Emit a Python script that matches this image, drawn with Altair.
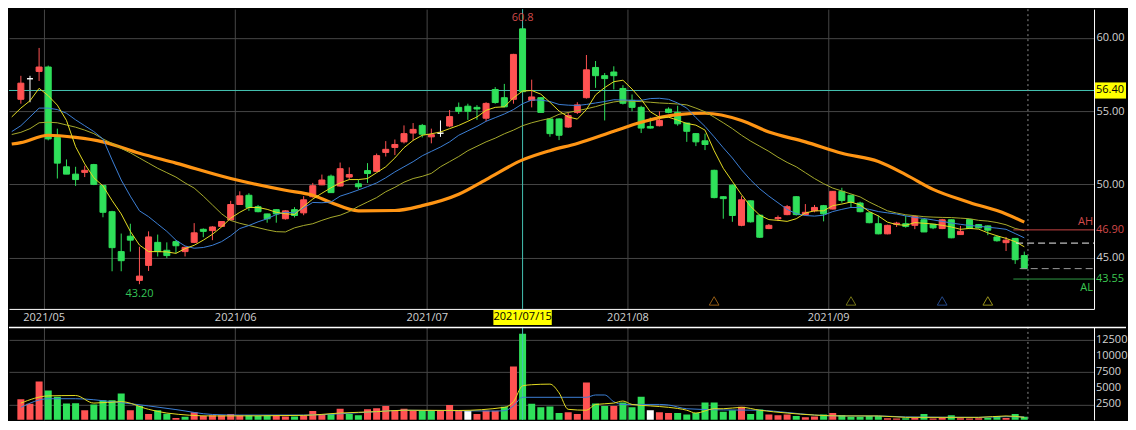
import altair as alt
import pandas as pd

# ---------------- data ----------------
opens = [55.8, 57.2, 57.7, 58.0, 53.2, 51.2, 50.7, 50.82, 51.35, 49.93,
         48.14, 45.42, 46.47, 43.46, 44.48, 46.05, 45.51, 46.1, 45.42, 46.05,
         46.94, 46.85, 47.14, 47.58, 48.63, 49.26, 48.48, 47.99, 48.28, 47.66,
         48.28, 48.06, 49.16, 49.97, 50.56, 49.89, 50.5, 50.04, 50.94, 50.89,
         52.18, 52.52, 52.9, 53.5, 54.02, 53.24, 53.49, 53.98, 55.25, 55.33,
         55.25, 54.51, 56.47, 55.91, 55.8, 60.6, 55.73, 55.91, 54.46, 54.46,
         53.91, 54.91, 55.91, 57.97, 57.41, 57.66, 56.54, 55.73, 55.25, 53.95,
         54.0, 55.13, 54.91, 54.18, 53.46, 52.97, 50.96, 49.16, 49.95, 47.21,
         48.88, 47.9, 46.99, 47.66, 47.94, 49.16, 47.94, 48.2, 48.55, 48.32,
         49.53, 49.26, 48.73, 48.06, 47.32, 46.63, 47.28, 47.32, 47.21, 47.59,
         47.28, 46.99, 47.59, 46.58, 47.61, 47.26, 47.17, 46.42, 46.03, 46.32,
         45.15]
highs = [57.4, 57.4, 59.3, 58.1, 53.8, 51.7, 51.2, 51.27, 51.4, 49.95,
         48.2, 46.65, 47.32, 45.75, 46.8, 46.58, 46.05, 46.2, 45.75, 47.36,
         47.0, 47.15, 47.5, 48.88, 49.53, 49.4, 48.6, 48.0, 48.3, 48.25,
         48.45, 49.2, 50.1, 50.67, 50.67, 51.49, 51.16, 50.33, 51.45, 52.1,
         52.95, 53.06, 54.02, 54.18, 54.12, 53.8, 54.36, 55.07, 55.58, 55.5,
         55.4, 55.6, 56.63, 56.85, 58.9, 60.8, 57.14, 55.95, 54.5, 54.5,
         54.9, 55.6, 58.82, 58.41, 57.59, 58.05, 56.76, 56.13, 55.36, 54.56,
         54.98, 55.25, 55.36, 54.2, 53.5, 53.46, 51.0, 49.2, 50.0, 49.2,
         48.9, 47.95, 47.3, 47.88, 48.6, 49.2, 48.66, 48.6, 48.6, 49.55,
         49.77, 49.3, 48.82, 48.1, 47.88, 47.25, 47.45, 47.88, 47.9, 47.62,
         47.3, 47.65, 47.62, 47.17, 47.65, 47.3, 47.2, 46.5, 46.42, 46.35,
         45.42]
lows = [55.5, 55.6, 57.05, 53.0, 50.4, 50.7, 49.9, 50.5, 49.95, 47.76,
        44.08, 44.08, 45.42, 43.2, 44.1, 45.09, 44.98, 45.3, 45.09, 46.0,
        46.4, 46.2, 47.1, 47.55, 48.6, 48.2, 48.1, 47.39, 47.39, 47.6,
        47.75, 47.9, 49.1, 49.95, 49.44, 49.85, 50.33, 49.66, 50.1, 50.85,
        51.9, 52.0, 52.79, 53.0, 53.2, 52.8, 53.24, 53.9, 54.8, 54.4,
        54.4, 54.3, 55.5, 55.25, 55.5, 56.3, 55.25, 54.91, 53.25, 53.02,
        53.85, 54.8, 55.85, 56.58, 54.36, 56.47, 55.45, 54.98, 53.5, 53.8,
        53.95, 54.85, 54.0, 52.9, 52.61, 52.34, 49.05, 47.66, 47.45, 47.15,
        47.4, 46.35, 46.95, 47.5, 47.9, 47.88, 47.88, 48.1, 47.48, 48.3,
        48.75, 48.4, 48.1, 47.35, 46.6, 46.6, 47.1, 47.05, 46.95, 46.75,
        46.95, 46.95, 46.33, 46.55, 46.95, 47.0, 46.54, 46.1, 45.46, 44.58,
        44.26]
closes = [56.9, 57.2, 58.0, 53.1, 51.45, 50.7, 50.33, 50.96, 50.0, 48.1,
          45.69, 44.8, 46.2, 43.75, 46.42, 45.42, 45.15, 45.82, 45.71, 46.7,
          46.8, 47.1, 47.47, 48.63, 49.22, 48.43, 48.14, 47.66, 47.99, 48.2,
          47.88, 48.95, 49.91, 50.3, 49.44, 51.07, 50.67, 49.84, 50.74, 51.96,
          52.39, 52.72, 53.46, 53.75, 53.42, 53.39, 53.49, 54.62, 54.98, 54.98,
          55.14, 55.52, 55.58, 55.29, 58.86, 56.32, 55.96, 54.91, 53.46, 53.35,
          54.69, 55.42, 57.81, 57.41, 57.21, 57.41, 55.53, 55.25, 53.84, 53.84,
          54.36, 54.91, 54.13, 53.62, 52.9, 52.72, 49.1, 49.03, 47.88, 48.95,
          47.45, 46.4, 47.21, 47.74, 48.48, 47.94, 48.1, 48.43, 47.99, 49.53,
          48.91, 48.77, 48.14, 47.39, 46.63, 47.21, 47.36, 47.14, 47.81, 46.76,
          47.04, 47.59, 46.36, 46.8, 46.99, 47.04, 46.88, 46.16, 46.2, 44.87,
          44.26]
volumes = [3300, 2590, 6060, 4680, 3700, 2630, 2670, 1600, 2490, 3160,
           3160, 4190, 1600, 2270, 1025, 1600, 1070, 400, 580, 1290,
           710, 800, 800, 1025, 800, 800, 710, 800, 800, 620,
           620, 800, 1470, 940, 1025, 1830, 1025, 800, 1740, 1920,
           2270, 1470, 1830, 1470, 1470, 1470, 1600, 2410, 1600, 1470,
           1025, 1515, 1515, 2140, 8420, 13480, 2590, 2050, 2190, 1160,
           1290, 1025, 5930, 2630, 2270, 2270, 2810, 2050, 3700, 1600,
           1290, 1160, 1160, 940, 1160, 2810, 2810, 1380, 1600, 2140,
           1025, 1700, 940, 800, 940, 710, 490, 620, 940, 1160,
           850, 580, 580, 710, 710, 350, 300, 350, 400, 1025,
           300, 400, 800, 350, 300, 350, 400, 710, 400, 1025,
           580]

month_pos = [2.5, 23.5, 44.5, 66.5, 88.5]
month_labels = ["2021/05", "2021/06", "2021/07", "2021/08", "2021/09"]
price_ticks = [45, 50, 55, 60]
vol_ticks = [2500, 5000, 7500, 10000, 12500]

# moving averages (index -1 .. 110)
ma_idx = list(range(-1, 111))
ma5 = [54.6, 55.2, 55.7, 56.55, 56.05, 55.4, 54.36, 52.57, 51.4, 50.45, 49.9,
       48.9, 47.99, 46.8, 45.87, 45.42, 45.42, 45.4, 45.3, 45.62, 45.85,
       46.2, 46.6, 47.1, 47.7, 48.1, 48.43, 48.43, 48.3, 48.1, 48.0,
       47.95, 48.5, 49.0, 49.4, 49.77, 50.1, 50.33, 50.33, 50.4, 50.8,
       51.2, 51.8, 52.5, 53.0, 53.35, 53.45, 53.57, 53.8, 54.02, 54.3,
       54.6, 55.05, 55.25, 55.29, 55.9, 56.36, 56.4, 56.15, 55.6, 55.0,
       54.6, 54.45, 55.1, 56.1, 56.6, 57.0, 57.1, 56.5, 55.8, 54.95,
       54.58, 54.58, 54.38, 54.15, 54.04, 53.7, 52.3, 51.1, 50.2, 49.3,
       48.5, 47.9, 47.6, 47.55, 47.48, 47.66, 48.05, 48.2, 48.2, 48.55,
       48.66, 48.8, 48.6, 48.15, 47.85, 47.43, 47.26, 47.21, 47.4, 47.35,
       47.3, 47.21, 47.1, 46.94, 47.0, 46.95, 46.7, 46.5, 46.32, 46.1,
       45.75]
ma10 = [53.6, 54.0, 54.6, 55.2, 55.2, 55.1, 54.85, 54.4, 54.0, 53.6, 53.1,
        51.67, 50.3, 49.2, 48.2, 47.8, 47.3, 46.8, 46.2, 45.8, 45.65,
        45.7, 45.85, 46.1, 46.5, 46.99, 47.2, 47.45, 47.66, 47.95, 48.1,
        48.06, 48.4, 48.77, 48.75, 48.8, 49.2, 49.4, 49.62, 49.85, 50.1,
        50.45, 50.85, 51.2, 51.55, 51.95, 52.25, 52.55, 52.9, 53.35, 53.65,
        53.95, 54.3, 54.55, 54.8, 55.1, 55.5, 55.75, 55.75, 55.65, 55.45,
        55.4, 55.38, 55.45, 55.55, 55.65, 55.77, 55.75, 55.73, 55.73, 55.85,
        55.87, 55.8, 55.55, 55.2, 54.55, 53.95, 53.24, 52.5, 51.8, 51.0,
        50.3, 49.7, 49.2, 48.75, 48.3, 48.0, 47.88, 47.84, 47.9, 48.15,
        48.3, 48.43, 48.42, 48.3, 48.15, 48.06, 47.98, 47.85, 47.75, 47.68,
        47.58, 47.48, 47.37, 47.28, 47.2, 47.15, 47.08, 47.02, 46.94, 46.65,
        46.36]
ma20 = [53.4, 53.55, 53.8, 54.2, 54.24, 54.2, 54.05, 53.9, 53.7, 53.46, 53.1,
        52.79, 52.45, 52.15, 51.8, 51.45, 51.1, 50.8, 50.5, 50.1, 49.75,
        49.2, 48.6, 48.0, 47.54, 47.35, 47.2, 47.05, 46.9, 46.78, 46.76,
        47.04, 47.2, 47.32, 47.55, 47.75, 47.9, 48.15, 48.5, 48.8, 49.1,
        49.5, 49.8, 50.15, 50.4, 50.55, 50.75, 51.2, 51.55, 51.9, 52.3,
        52.6, 52.9, 53.15, 53.45, 53.7, 54.0, 54.2, 54.36, 54.5, 54.78,
        54.9, 55.02, 55.15, 55.3, 55.48, 55.62, 55.7, 55.67, 55.64, 55.6,
        55.55, 55.52, 55.48, 55.42, 55.2, 54.95, 54.58, 54.2, 53.8, 53.35,
        52.95, 52.6, 52.25, 51.85, 51.5, 51.2, 50.8, 50.4, 50.05, 49.75,
        49.55, 49.35, 49.15, 48.8, 48.5, 48.2, 48.05, 47.93, 47.87, 47.8,
        47.77, 47.75, 47.74, 47.7, 47.66, 47.55, 47.5, 47.4, 47.25, 47.0,
        46.85]
ma60_idx = [-1, 0, 3, 6, 9, 13, 17, 23, 29, 32, 34, 37, 41, 44, 48, 51, 55, 58,
            61, 65, 68, 72, 75, 79, 82, 86, 90, 94, 97, 100, 104, 108, 110]
ma60 = [52.75, 52.85, 53.35, 53.2, 52.9, 52.12, 51.45, 50.4, 49.6, 49.26, 48.77,
        48.2, 48.22, 48.55, 49.33, 50.33, 51.67, 52.3, 52.79, 53.62, 54.24,
        54.76, 54.85, 54.36, 53.57, 52.9, 52.12, 51.56, 50.67, 49.66, 48.77,
        47.99, 47.43]

vma5_idx = [0, 3, 6, 8, 11, 14, 16, 21, 31, 35, 39, 42, 48, 53, 54, 55, 56, 58,
            59, 60, 62, 63, 65, 66, 67, 69, 71, 73, 74, 76, 77, 79, 81, 84, 87,
            90, 94, 97, 105, 108, 110]
vma5 = [2710, 3830, 3890, 2710, 2930, 1740, 1160, 710, 800, 1160, 1380, 1600,
        1560, 2050, 2930, 5390, 5570, 5660, 4300, 1740, 1600, 2500, 2710, 3030,
        2500, 2270, 2050, 1600, 1160, 1830, 1830, 2050, 1600, 1160, 850, 710,
        710, 490, 490, 710, 490]
vma10_idx = [0, 3, 6, 10, 14, 17, 21, 24, 31, 39, 42, 52, 53, 54, 55, 62, 63, 64,
             65, 66, 70, 71, 73, 77, 81, 84, 87, 90, 94, 97, 105, 108, 110]
vma10 = [2050, 3390, 3390, 2930, 2270, 1700, 940, 850, 850, 1380, 1600, 1470,
         1520, 2270, 3610, 3610, 3970, 3970, 2930, 2500, 2500, 2410, 1830, 1650,
         1600, 1250, 850, 710, 710, 560, 490, 600, 560]

cursor_idx = 55
cursor_date = "2021/07/15"
cursor_price = 56.40
now_idx = 110.4
hi_idx, hi_val, hi_text = 55, 60.8, "60.8"
lo_idx, lo_val, lo_text = 13, 43.20, "43.20"
ah_val, al_val = 46.90, 43.55
dash_hi, dash_lo = 46.00, 44.26
level_start = [108.8, 108.8, 109.1, 109.5]
sig_idx = [76, 91, 101, 106]
sig_kind = ["s1", "s2", "s3", "s4"]

# ---------------- tables ----------------
n = len(closes)
df = pd.DataFrame({"i": list(range(n)), "open": opens, "high": highs,
                   "low": lows, "close": closes, "vol": volumes})
df["cdir"] = ["up" if c > o else ("down" if c < o else "flat")
              for o, c in zip(opens, closes)]
prev = [closes[0] - 1] + closes[:-1]
df["vdir"] = ["up" if c > p else ("down" if c < p else "flat")
              for p, c in zip(prev, closes)]
ma_df = pd.DataFrame({"i": ma_idx, "ma5": ma5, "ma10": ma10, "ma20": ma20})
ma60_df = pd.DataFrame({"i": ma60_idx, "v": ma60})
vma5_df = pd.DataFrame({"i": vma5_idx, "v": vma5})
vma10_df = pd.DataFrame({"i": vma10_idx, "v": vma10})
cur_df = pd.DataFrame({"i": [cursor_idx], "date": [cursor_date],
                       "p": [cursor_price], "ptxt": [f"{cursor_price:.2f}"]})
now_df = pd.DataFrame({"i": [now_idx]})
ext_df = pd.DataFrame({"i": [hi_idx, lo_idx], "v": [hi_val, lo_val],
                       "t": [hi_text, lo_text], "k": ["hi", "lo"]})
sig_df = pd.DataFrame({"i": sig_idx, "k": sig_kind})
lev = pd.DataFrame({"v": [ah_val, al_val, dash_hi, dash_lo],
                    "s": level_start, "k": ["ah", "al", "dh", "dl"]})
vtick_df = pd.DataFrame({"v": vol_ticks})

# ---------------- styles ----------------
FONT = "Open Sans"
GRID = "#464646"
LBL = "#d2d2d2"
CYAN = "#44c2b2"
RED = "#ff5252"
GREEN = "#2fe05a"
W, H1, STRIP, H2 = 1086, 300, 17, 93

X = alt.Scale(domain=[-0.753, 117.097], nice=False, zero=False)
YP = alt.Scale(domain=[41.514, 61.942], nice=False, zero=False)
YV = alt.Scale(domain=[108, 14565], nice=False, zero=False)
cscale = alt.Scale(domain=["up", "down", "flat"], range=[RED, GREEN, "#ffffff"])

label_expr = "".join(f"datum.value == {p} ? '{l}' : "
                     for p, l in zip(month_pos, month_labels)) + "''"

xaxis_top = alt.Axis(values=month_pos, labelExpr=label_expr, grid=True,
                     gridColor=GRID, ticks=False, domain=True, domainColor="#ffffff",
                     labelColor=LBL, labelFontSize=11, labelFont=FONT, labelPadding=3,
                     minExtent=STRIP, maxExtent=STRIP, title=None, labelAngle=0,
                     labelOverlap=False, labelFlush=False, orient="bottom")
yaxis_top = alt.Axis(values=price_ticks, format=".2f", grid=True,
                     gridColor=GRID, ticks=False, domain=True, domainColor="#ffffff",
                     labelColor=LBL, labelFontSize=11, labelFont=FONT, labelPadding=2,
                     labelOverlap=False, orient="right", title=None)
xaxis_vol = alt.Axis(values=month_pos, labels=False, grid=True, gridColor=GRID,
                     ticks=False, domain=False, title=None, minExtent=0, maxExtent=0)
yaxis_vol = alt.Axis(values=vol_ticks, labels=False, grid=True,
                     gridColor=GRID, ticks=False, domain=True, domainColor="#ffffff",
                     orient="right", title=None, minExtent=0, maxExtent=0)

xi = alt.X("i:Q", scale=X, title=None)


def yp(field):
    return alt.Y(field, scale=YP, title=None)


# ---------------- price panel ----------------
wicks = alt.Chart(df).mark_rule(strokeWidth=1).encode(
    x=alt.X("i:Q", scale=X, axis=xaxis_top),
    y=alt.Y("low:Q", scale=YP, axis=yaxis_top),
    y2="high:Q",
    color=alt.Color("cdir:N", scale=cscale, legend=None))
bodies = alt.Chart(df).mark_bar(size=6, strokeWidth=1).encode(
    x=xi, y=yp("open:Q"), y2="close:Q",
    color=alt.Color("cdir:N", scale=cscale, legend=None),
    stroke=alt.Stroke("cdir:N", scale=cscale, legend=None))

hline = alt.Chart(cur_df).mark_rule(color=CYAN, strokeWidth=1).encode(y=yp("p:Q"))
vline = alt.Chart(cur_df).mark_rule(color=CYAN, strokeWidth=1).encode(x=xi)
nowline = alt.Chart(now_df).mark_rule(color="#8c8c8c", strokeWidth=1,
                                      strokeDash=[2, 3]).encode(x=xi)


def ma_line(data, field, color, width=1.0, interp="linear"):
    return alt.Chart(data).mark_line(color=color, strokeWidth=width, clip=True,
                                     interpolate=interp).encode(
        x=xi, y=yp(f"{field}:Q"))


l20 = ma_line(ma_df, "ma20", "#a6aa2c")
l10 = ma_line(ma_df, "ma10", "#3c7fd6")
l5 = ma_line(ma_df, "ma5", "#e4dc22")
l60 = ma_line(ma60_df, "v", "#ff9514", 3.2, "monotone")

ext_hi = alt.Chart(ext_df).transform_filter("datum.k == 'hi'").mark_text(
    font=FONT, fontSize=11, color="#cf4b4b", baseline="bottom", dy=-3).encode(
    x=xi, y=yp("v:Q"), text="t:N")
ext_lo = alt.Chart(ext_df).transform_filter("datum.k == 'lo'").mark_text(
    font=FONT, fontSize=11, color="#35c457", baseline="top", dy=4).encode(
    x=xi, y=yp("v:Q"), text="t:N")

sig_colors = {"s1": "#d4841e", "s2": "#a4a422", "s3": "#3567c4", "s4": "#d8d028"}
sig_layers = [
    alt.Chart(sig_df).transform_filter(f"datum.k == '{k}'").mark_point(
        shape="triangle-up", filled=False, size=95, strokeWidth=1, color=c).encode(
        x=xi, y=alt.value(H1 - 8))
    for k, c in sig_colors.items()
]


def level(k, color, dash=None):
    kw = dict(color=color, strokeWidth=1)
    if dash:
        kw["strokeDash"] = dash
    return alt.Chart(lev).transform_filter(f"datum.k == '{k}'").mark_rule(**kw).encode(
        x=alt.X("s:Q", scale=X, title=None), x2=alt.value(W), y=yp("v:Q"))


lv_ah = level("ah", "#c84444")
lv_al = level("al", "#2f9a45")
lv_dh = level("dh", "#f0f0f0", [7, 4])
lv_dl = level("dl", "#9a9a9a", [7, 4])


def lev_text(k, color):
    return alt.Chart(lev).transform_filter(f"datum.k == '{k}'").transform_calculate(
        t="format(datum.v, '.2f')").mark_text(
        font=FONT, fontSize=11, align="left", color=color).encode(
        x=alt.value(W + 2), y=yp("v:Q"), text="t:N")


ah_txt = lev_text("ah", "#d24a4a")
al_txt = lev_text("al", "#3cc852")
ah_tag = alt.Chart(lev).transform_filter("datum.k == 'ah'").mark_text(
    font=FONT, fontSize=11, align="right", color="#d24a4a", dy=-8).encode(
    x=alt.value(W - 1), y=yp("v:Q"), text=alt.value("AH"))
al_tag = alt.Chart(lev).transform_filter("datum.k == 'al'").mark_text(
    font=FONT, fontSize=11, align="right", color="#3cc852", dy=9).encode(
    x=alt.value(W - 1), y=yp("v:Q"), text=alt.value("AL"))

price_box = alt.Chart(cur_df).transform_calculate(
    a="datum.p + 0.55", b="datum.p - 0.55").mark_rect(color="#ffff00").encode(
    x=alt.value(W + 1), x2=alt.value(W + 32), y=yp("a:Q"), y2="b:Q")
price_txt = alt.Chart(cur_df).mark_text(font=FONT, fontSize=11, color="#000000",
                                        align="left").encode(
    x=alt.value(W + 2), y=yp("p:Q"), text="ptxt:N")

date_box = alt.Chart(cur_df).transform_calculate(
    a="datum.i - 3.2", b="datum.i + 3.2").mark_rect(color="#ffff00").encode(
    x=alt.X("a:Q", scale=X, title=None), x2="b:Q",
    y=alt.value(H1 + 1), y2=alt.value(H1 + STRIP - 1))
date_txt = alt.Chart(cur_df).mark_text(font=FONT, fontSize=11, color="#000000").encode(
    x=xi, y=alt.value(H1 + STRIP / 2), text="date:N")

price = alt.layer(wicks, hline, vline, nowline, bodies, l60, l20, l10, l5,
                  ext_hi, ext_lo, *sig_layers, lv_ah, lv_al, lv_dh, lv_dl,
                  ah_txt, al_txt, ah_tag, al_tag, price_box, price_txt,
                  date_box, date_txt).properties(width=W, height=H1)

# ---------------- volume panel ----------------
yv = lambda f: alt.Y(f, scale=YV, title=None)
vbars = alt.Chart(df).mark_bar(size=7, clip=True).encode(
    x=alt.X("i:Q", scale=X, axis=xaxis_vol),
    y=alt.Y("vol:Q", scale=YV, axis=yaxis_vol),
    y2=alt.datum(0),
    color=alt.Color("vdir:N", scale=cscale, legend=None))
vl5 = alt.Chart(vma5_df).mark_line(color="#e4dc22", strokeWidth=1, clip=True,
                                   interpolate="monotone").encode(x=xi, y=yv("v:Q"))
vl10 = alt.Chart(vma10_df).mark_line(color="#3c7fd6", strokeWidth=1, clip=True,
                                     interpolate="monotone").encode(x=xi, y=yv("v:Q"))
vvline = alt.Chart(cur_df).mark_rule(color=CYAN, strokeWidth=1).encode(x=xi)
vnow = alt.Chart(now_df).mark_rule(color="#8c8c8c", strokeWidth=1,
                                   strokeDash=[2, 3]).encode(x=xi)
vtop = alt.Chart(cur_df).mark_rule(color="#ffffff", strokeWidth=1.5).encode(
    x=alt.value(0), x2=alt.value(W + 32), y=alt.value(0.5))
# volume tick labels (right side), one per tick value
vlabels = alt.Chart(vtick_df).mark_text(font=FONT, fontSize=11, color=LBL,
                                        align="left").encode(
    x=alt.value(W + 2), y=yv("v:Q"), text=alt.Text("v:Q", format="d"))

volume = alt.layer(vbars, vvline, vnow, vl10, vl5, vtop, vlabels).properties(
    width=W, height=H2)

chart = alt.vconcat(price, volume, spacing=0).properties(
    padding=0, background="#000000"
).configure_view(stroke=None).configure_text(font=FONT)

chart.save("out.html", embed_options={"renderer": "svg", "actions": False})
